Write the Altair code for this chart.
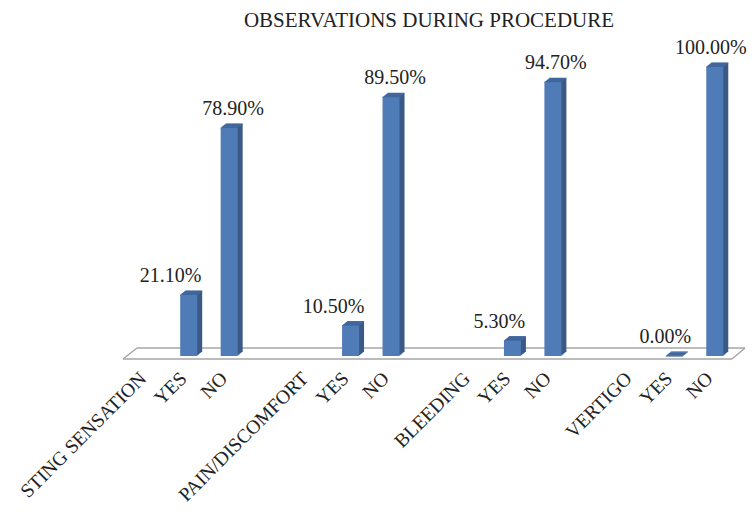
import altair as alt
import pandas as pd

# Data
categories = ["STING SENSATION", "YES", "NO", "", "PAIN/DISCOMFORT", "YES", "NO", "",
              "BLEEDING", "YES", "NO", "", "VERTIGO", "YES", "NO"]
bar_slots = [1, 2, 5, 6, 9, 10, 13, 14]
values = [21.1, 78.9, 10.5, 89.5, 5.3, 94.7, 0.0, 100.0]
title_text = "OBSERVATIONS DURING PROCEDURE"

# Styling
FRONT, SIDE, TOP = "#4f7cb7", "#3b5a86", "#41689e"
INK = "#222222"
FONT = "Liberation Serif"
label_dx = [-18, 4, -17, 4, -13, 3, -9, -4]
floor_edges = [(-5, 292, 604, 292), (9, 281, 617, 281), (-5, 292, 9, 281), (604, 292, 617, 281)]

df = pd.DataFrame({"slot": bar_slots, "value": values,
                   "label": [f"{v:.2f}%" for v in values]})

x = alt.X("slot:O", scale=alt.Scale(domain=list(range(len(categories))), paddingInner=0, paddingOuter=0),
          axis=alt.Axis(title=None, domain=False, ticks=False, labelAngle=-45, labelAlign="right",
                        labelBaseline="middle", labelPadding=19, labelOffset=-5, labelOverlap=False,
                        labelBound=False, labelFlush=False, labelLimit=400, labelFont=FONT,
                        labelFontSize=19.5, labelColor=INK,
                        labelExpr="%s[datum.value]" % str(categories)))
y = alt.Y("value:Q", scale=alt.Scale(domain=[0, 100], nice=False), axis=None)

layers = []
for x0, y0, x1, y1 in floor_edges:
    layers.append(alt.Chart(alt.Data(values=[{}])).mark_rule(color="#a6a6a6", strokeWidth=1.5)
                  .encode(x=alt.value(x0), x2=alt.value(x1), y=alt.value(y0), y2=alt.value(y1)))

base = alt.Chart(df)
for i in range(5, 0, -1):
    layers.append(base.mark_bar(size=17, color=SIDE, xOffset=i, yOffset=-0.8 * i).encode(x=x, y=y))
for i in range(6):
    layers.append(base.mark_tick(size=17, thickness=1.2, color=TOP, xOffset=i, yOffset=-0.8 * i, opacity=1)
                  .encode(x=x, y=y))
layers.append(base.mark_bar(size=17, color=FRONT).encode(x=x, y=y))
for slot, dx in zip(bar_slots, label_dx):
    layers.append(base.transform_filter(alt.datum.slot == slot)
                  .mark_text(font=FONT, fontSize=20, color=INK, dx=dx, dy=-19, baseline="middle")
                  .encode(x=x, y=y, text="label:N"))
layers.append(alt.Chart(alt.Data(values=[{"t": title_text}]))
              .mark_text(font=FONT, fontSize=21, color=INK, baseline="middle", align="center")
              .encode(x=alt.value(301), y=alt.value(-46), text="t:N"))

chart = alt.layer(*layers).properties(
    width=607, height=289,
    autosize=alt.AutoSizeParams(type="none"),
    padding={"left": 120, "top": 59, "right": 12, "bottom": 148},
).configure_view(stroke=None)

chart.save("out.html", embed_options={"renderer": "svg", "actions": False})
